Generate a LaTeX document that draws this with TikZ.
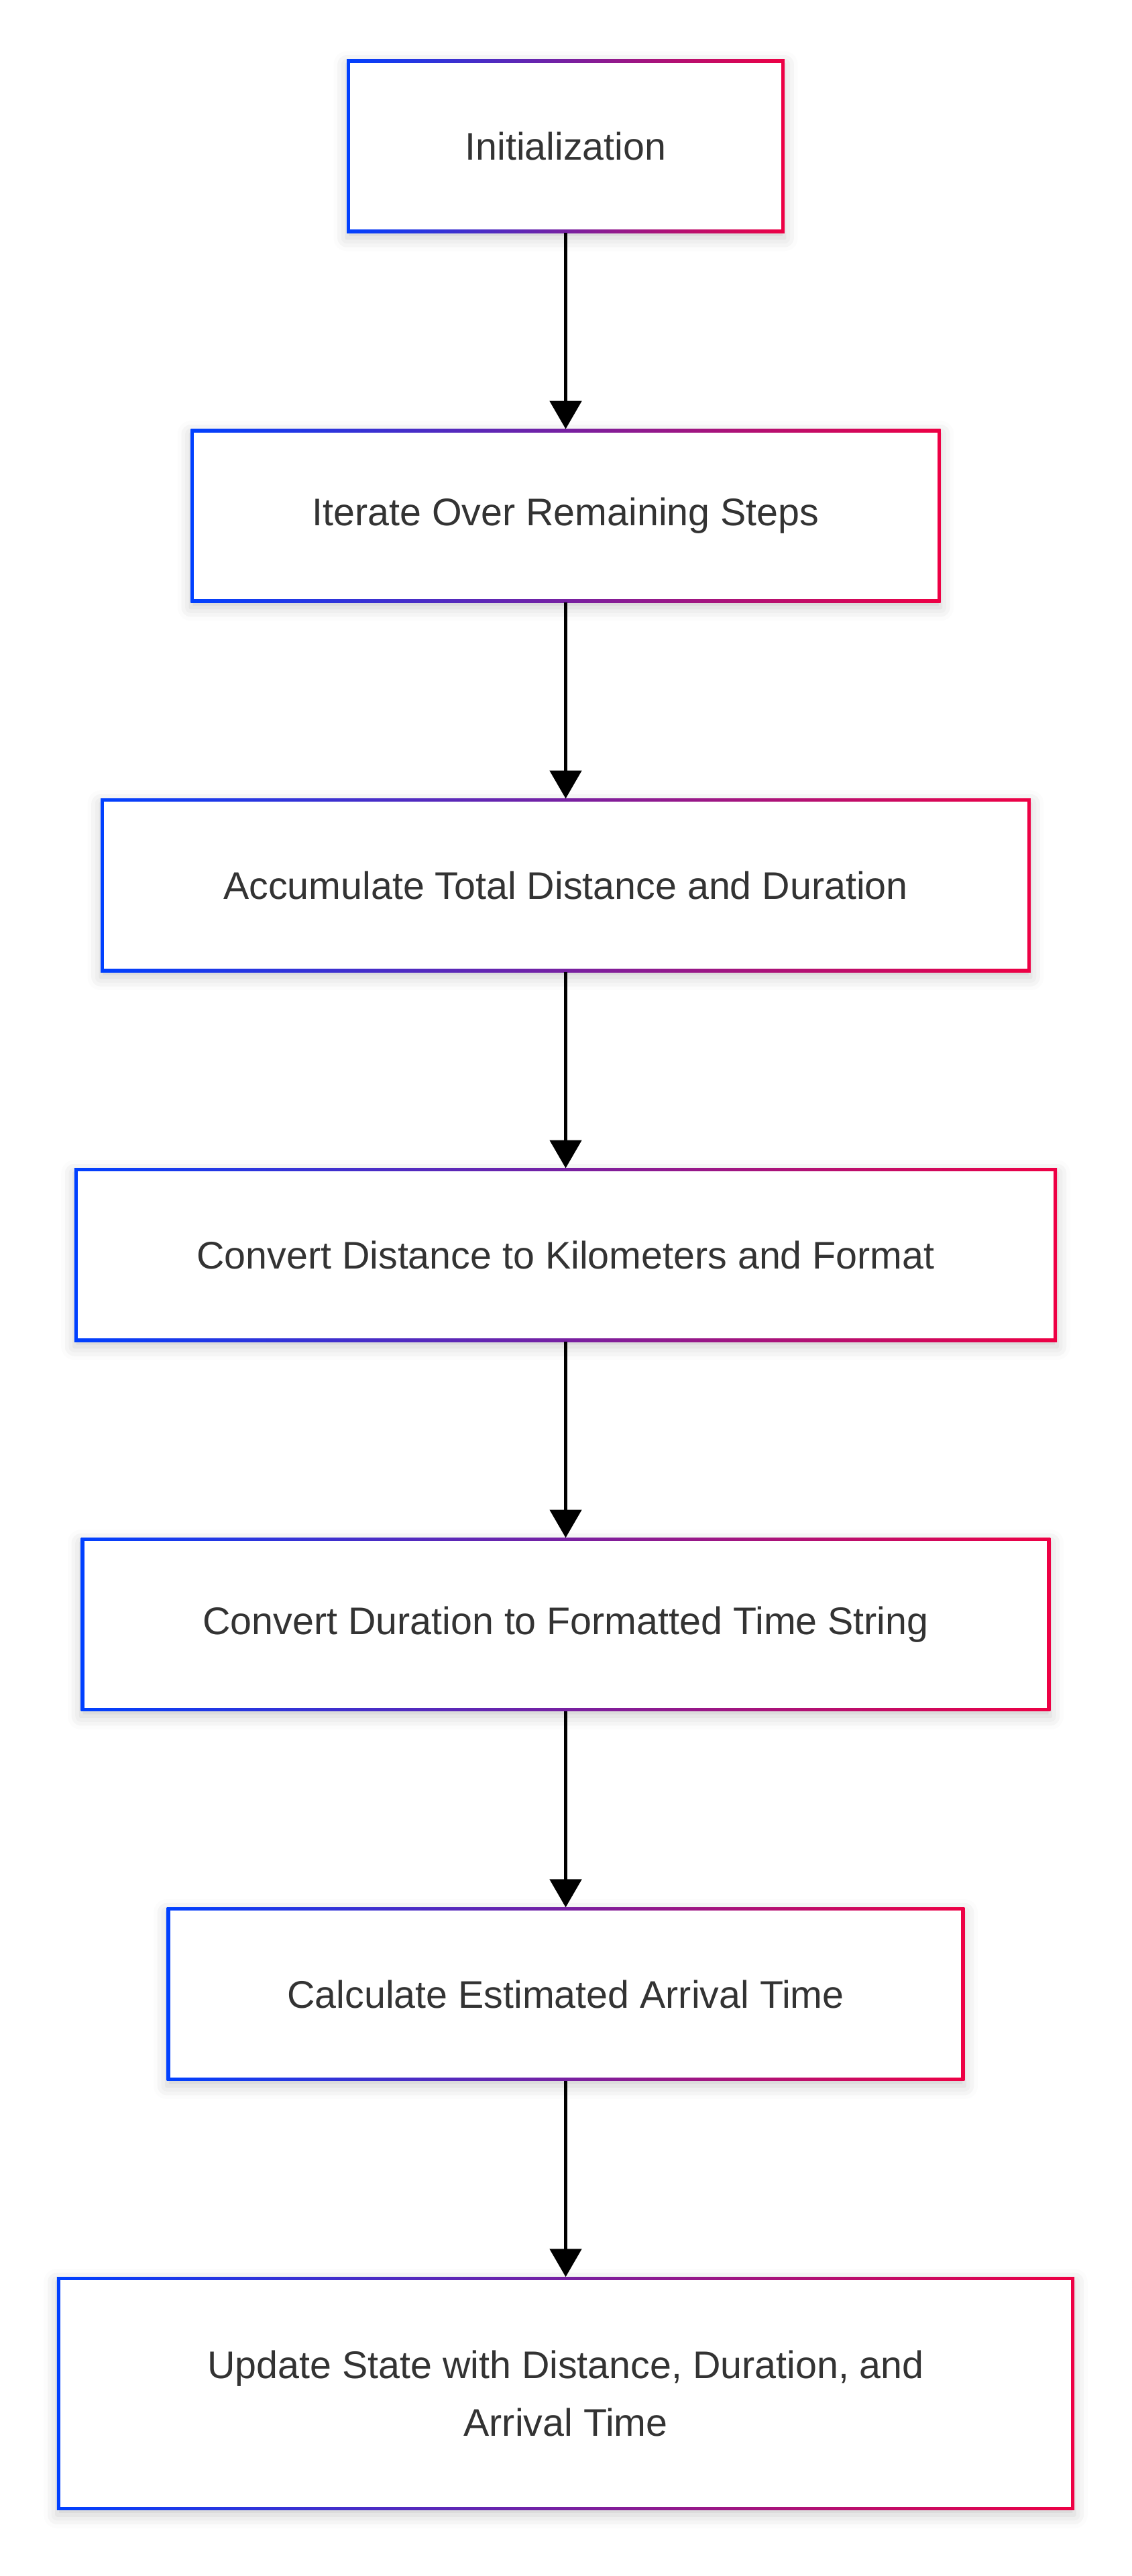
\documentclass[tikz,border=0pt]{standalone}
\usepackage{fontspec}
\setmainfont{Liberation Sans}
\usetikzlibrary{arrows.meta, positioning, shadows.blur}
\definecolor{edgeblue}{RGB}{0,64,255}
\definecolor{edgered}{RGB}{238,0,68}
\definecolor{labelgray}{RGB}{51,51,51}
\begin{document}
\begin{tikzpicture}[x=1pt, y=1pt, node distance=118.7pt,
    stepbox/.style={rectangle, outer sep=0pt, inner sep=0pt, minimum height=105pt, align=center, text=labelgray, font=\fontsize{23.3}{35}\selectfont, left color=edgeblue, right color=edgered, blur shadow={shadow xshift=0pt, shadow yshift=-3pt, shadow blur radius=8pt, shadow opacity=20}, path picture={\fill[white] ([shift={(2pt,2pt)}]path picture bounding box.south west) rectangle ([shift={(-2pt,-2pt)}]path picture bounding box.north east);}},
    flow/.style={-{Triangle[width=19pt,length=17pt]}, line width=2.3pt, black}]
    \useasboundingbox (0,0) rectangle (685,-1559.2);
    \node[stepbox, minimum width=265pt] (init) at (342.5,-88.5) {Initialization};
    \node[stepbox, minimum width=454pt, below=of init] (iterate) {Iterate Over Remaining Steps};
    \node[stepbox, minimum width=563pt, below=of iterate] (accumulate) {Accumulate Total Distance and Duration};
    \node[stepbox, minimum width=595pt, below=of accumulate] (kilometers) {Convert Distance to Kilometers and Format};
    \node[stepbox, minimum width=587pt, below=of kilometers] (timestring) {Convert Duration to Formatted Time String};
    \node[stepbox, minimum width=483pt, below=of timestring] (arrival) {Calculate Estimated Arrival Time};
    \node[stepbox, minimum width=616pt, minimum height=141pt, below=of arrival] (update) {Update State with Distance, Duration, and\\Arrival Time};
    \draw[flow] (init) -- (iterate);
    \draw[flow] (iterate) -- (accumulate);
    \draw[flow] (accumulate) -- (kilometers);
    \draw[flow] (kilometers) -- (timestring);
    \draw[flow] (timestring) -- (arrival);
    \draw[flow] (arrival) -- (update);
\end{tikzpicture}
\end{document}
